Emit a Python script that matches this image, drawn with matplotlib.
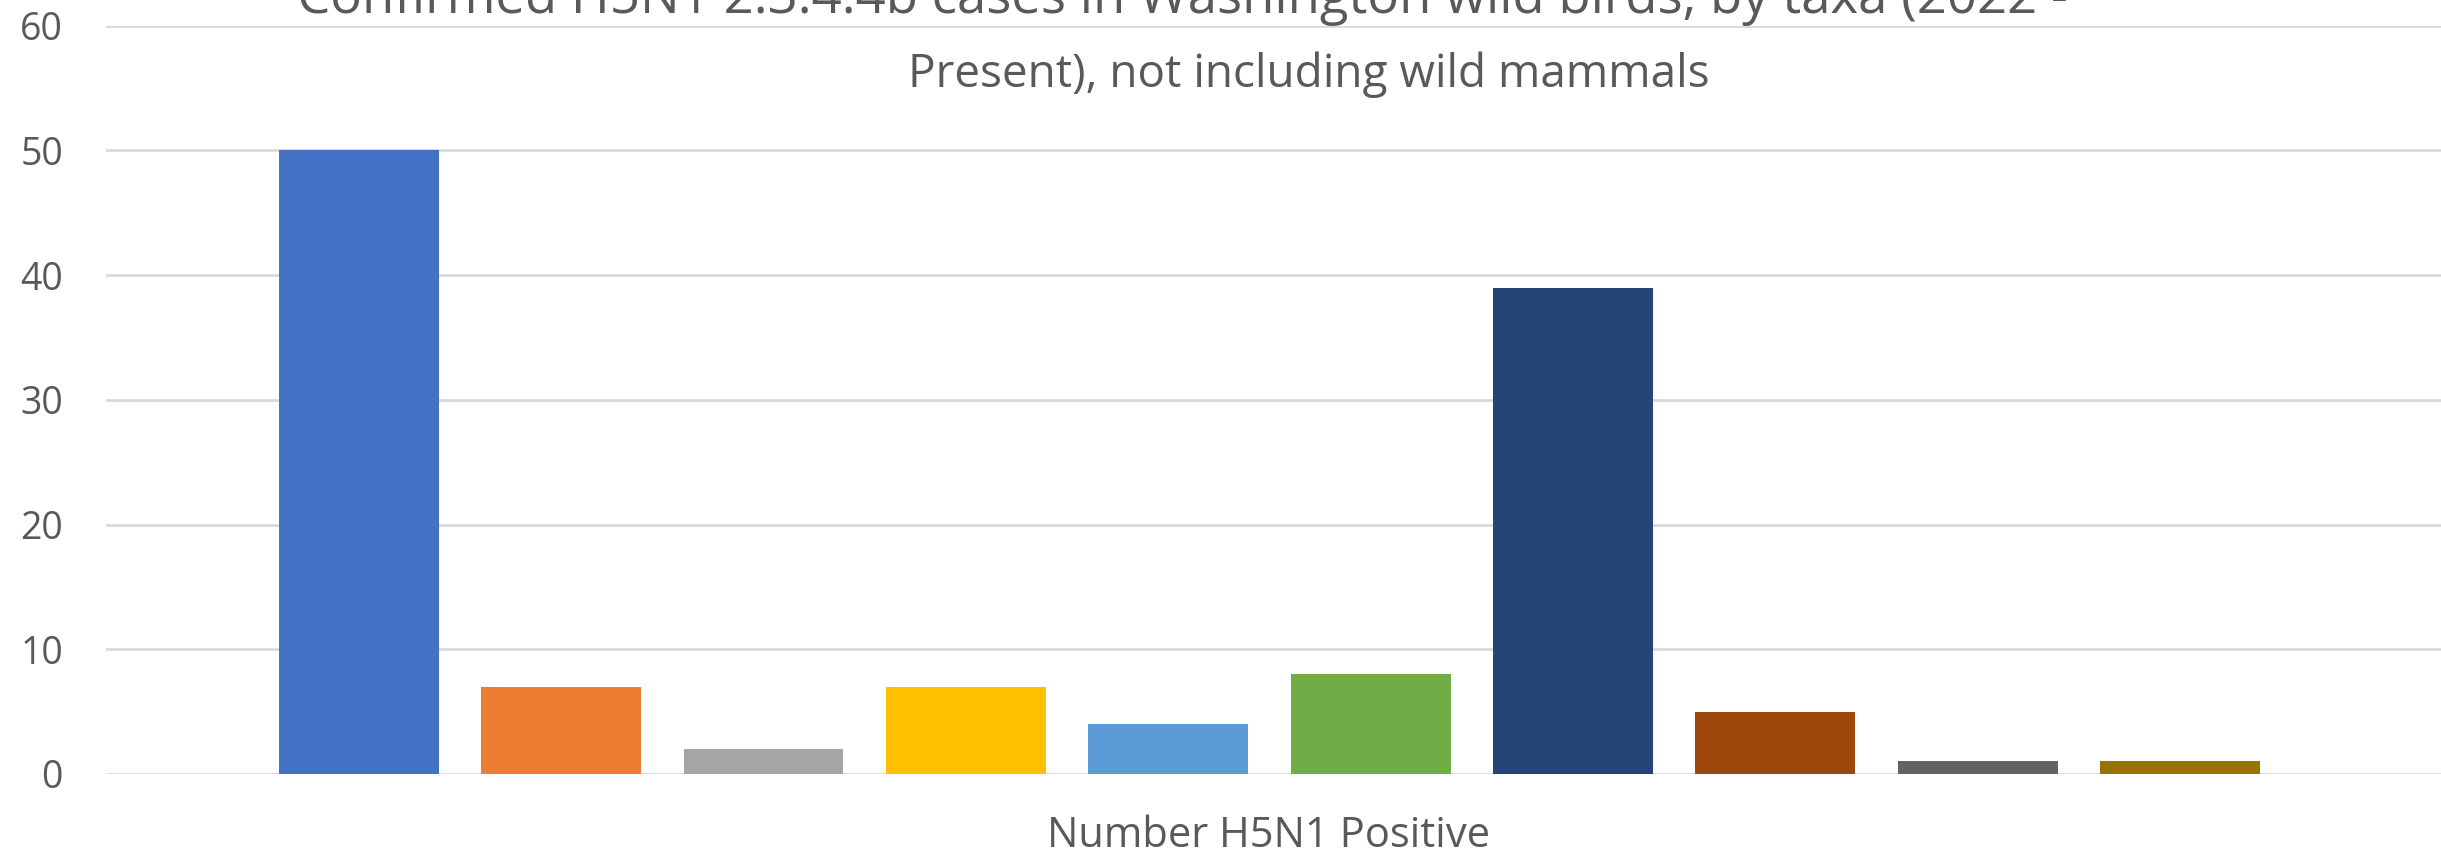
import matplotlib.pyplot as plt
import numpy as np

# Data
taxa = ['Waterfowl', 'Raptors', 'Gulls', 'Corvids', 'Shorebirds', 'Songbirds',
        'Geese', 'Owls', 'Herons', 'Other']
positives = [50, 7, 2, 7, 4, 8, 39, 5, 1, 1]
colors = ['#4472C4', '#ED7D31', '#A5A5A5', '#FFC000', '#5B9BD5', '#70AD47',
          '#264478', '#9E480E', '#636363', '#997300']
yticks = [0, 10, 20, 30, 40, 50, 60]

plt.rcParams['font.family'] = ['Open Sans', 'DejaVu Sans']

fig = plt.figure(figsize=(24.41, 8.58), dpi=100)
ax = fig.add_axes([0.0434, 0.098, 0.9566, 0.872])

x = np.arange(len(positives))
ax.bar(x, positives, width=0.79, color=colors, zorder=3)

ax.set_xlim(-1.25, 10.29)
ax.set_ylim(0, 60)
ax.set_yticks(yticks)
ax.set_xticks([])
ax.grid(axis='y', color='#D9D9D9', linewidth=2, zorder=0)
for s in ax.spines.values():
    s.set_visible(False)
ax.tick_params(axis='y', length=0, labelsize=27, labelcolor='#595959', pad=31)

fig.text(0.5195, 0.0254, 'Number H5N1 Positive', ha='center', va='center',
         fontsize=30, color='#595959')

# title, first line runs off the top like in the original
fig.text(0.1218, 0.985, 'Confirmed H5N1 2.3.4.4b cases in Washington wild birds, by taxa (2022 -',
         ha='left', va='baseline', fontsize=38, color='#595959')
fig.text(0.372, 0.899, 'Present), not including wild mammals',
         ha='left', va='baseline', fontsize=33, color='#595959')

fig.savefig('out.png', dpi=100)
